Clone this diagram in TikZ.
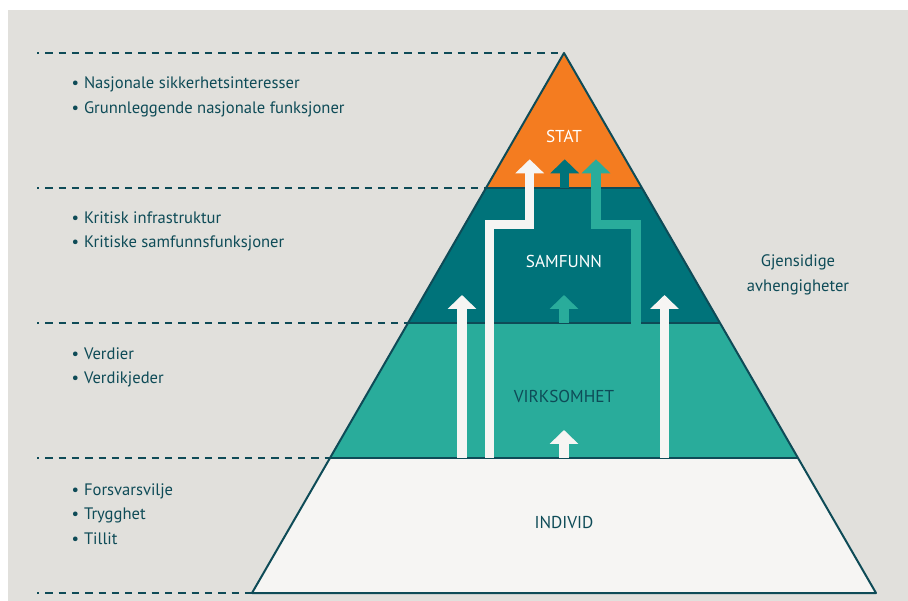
\documentclass[tikz,border=0pt]{standalone}
\usepackage{fontspec}
\setmainfont{PT Sans}
\usepackage{xcolor}
\usetikzlibrary{arrows.meta}

\definecolor{bgcol}{HTML}{E1E0DC}
\definecolor{ink}{HTML}{0E4B57}
\definecolor{statcol}{HTML}{F47C20}
\definecolor{samcol}{HTML}{00737A}
\definecolor{virkcol}{HTML}{29AC9B}
\definecolor{indcol}{HTML}{F6F5F3}

\begin{document}
\begin{tikzpicture}[x=1pt, y=-1pt,
	guide/.style={ink, line width=2pt, dash pattern=on 7.3pt off 6pt, dash phase=5pt},
	edge/.style={ink, line width=2pt, line join=round},
	uparrow/.style={line width=9.3pt, line join=miter, -{Triangle[width=28pt,length=14pt]}},
	bullets/.style={anchor=base west, align=left, ink, font=\fontsize{16.6}{24.5}\selectfont},
	level/.style={font=\fontsize{17.2}{20}\selectfont}]
	\useasboundingbox (0,0) rectangle (908,601);
	\fill[bgcol] (8,10) rectangle (908,601);
	% pyramid corners
	\coordinate (top) at (564,53);
	\coordinate (l1) at (486,188); \coordinate (r1) at (642,188);
	\coordinate (l2) at (408,323); \coordinate (r2) at (720,323);
	\coordinate (l3) at (330,458); \coordinate (r3) at (798,458);
	\coordinate (l4) at (252,593); \coordinate (r4) at (876,593);
	\fill[indcol] (l3) -- (r3) -- (r4) -- (l4) -- cycle;
	\fill[virkcol] (l2) -- (r2) -- (r3) -- (l3) -- cycle;
	\fill[samcol] (l1) -- (r1) -- (r2) -- (l2) -- cycle;
	\fill[statcol] (top) -- (r1) -- (l1) -- cycle;
	\draw[edge] (l1) -- (r1);
	\draw[edge] (l2) -- (r2);
	\draw[edge] (l3) -- (r3);
	\draw[edge] (top) -- (r4) -- (l4) -- cycle;
	\foreach \c in {top,l1,l2,l3,l4}
		\draw[guide] (37,0 |- \c) -- (\c);
	% arrows
	\coordinate (a0) at (462,458); \coordinate (a1) at (462,295);
	\coordinate (b0) at (489.7,458); \coordinate (b1) at (529.7,224.6); \coordinate (b2) at (529.7,159.3);
	\coordinate (c0) at (564,458); \coordinate (c1) at (564,430);
	\coordinate (d0) at (564,323); \coordinate (d1) at (564,295);
	\coordinate (e0) at (564.7,188); \coordinate (e1) at (564.7,159.3);
	\coordinate (f0) at (636,457); \coordinate (f1) at (596,224.6); \coordinate (f2) at (596,159.3);
	\coordinate (g0) at (664.5,458); \coordinate (g1) at (664.5,295);
	\draw[uparrow, virkcol] (f0) |- (f1) -- (f2);
	\draw[uparrow, indcol] (a0) -- (a1);
	\draw[uparrow, indcol] (b0) |- (b1) -- (b2);
	\draw[uparrow, indcol] (c0) -- (c1);
	\draw[uparrow, virkcol] (d0) -- (d1);
	\draw[uparrow, samcol] (e0) -- (e1);
	\draw[uparrow, indcol] (g0) -- (g1);
	% labels
	\node[level, white] (stat) at (564,136) {STAT};
	\node[level, white] (samfunn) at (564,261) {SAMFUNN};
	\node[level, ink] (virksomhet) at (564,396) {VIRKSOMHET};
	\node[level, ink] (individ) at (564,522) {INDIVID};
	\node[bullets] (statlist) at (68,113.5) {\textbullet\hspace{5pt}Nasjonale sikkerhetsinteresser\\ \textbullet\hspace{5pt}Grunnleggende nasjonale funksjoner};
	\node[bullets] (samlist) at (68,248) {\textbullet\hspace{5pt}Kritisk infrastruktur\\ \textbullet\hspace{5pt}Kritiske samfunnsfunksjoner};
	\node[bullets] (virklist) at (68,384) {\textbullet\hspace{5pt}Verdier\\ \textbullet\hspace{5pt}Verdikjeder};
	\node[bullets] (indlist) at (68,544) {\textbullet\hspace{5pt}Forsvarsvilje\\ \textbullet\hspace{5pt}Trygghet\\ \textbullet\hspace{5pt}Tillit};
	\node[anchor=base, align=center, ink, font=\fontsize{16.6}{24.5}\selectfont] (gjensidig) at (798,291.5) {Gjensidige\\ avhengigheter};
\end{tikzpicture}
\end{document}
